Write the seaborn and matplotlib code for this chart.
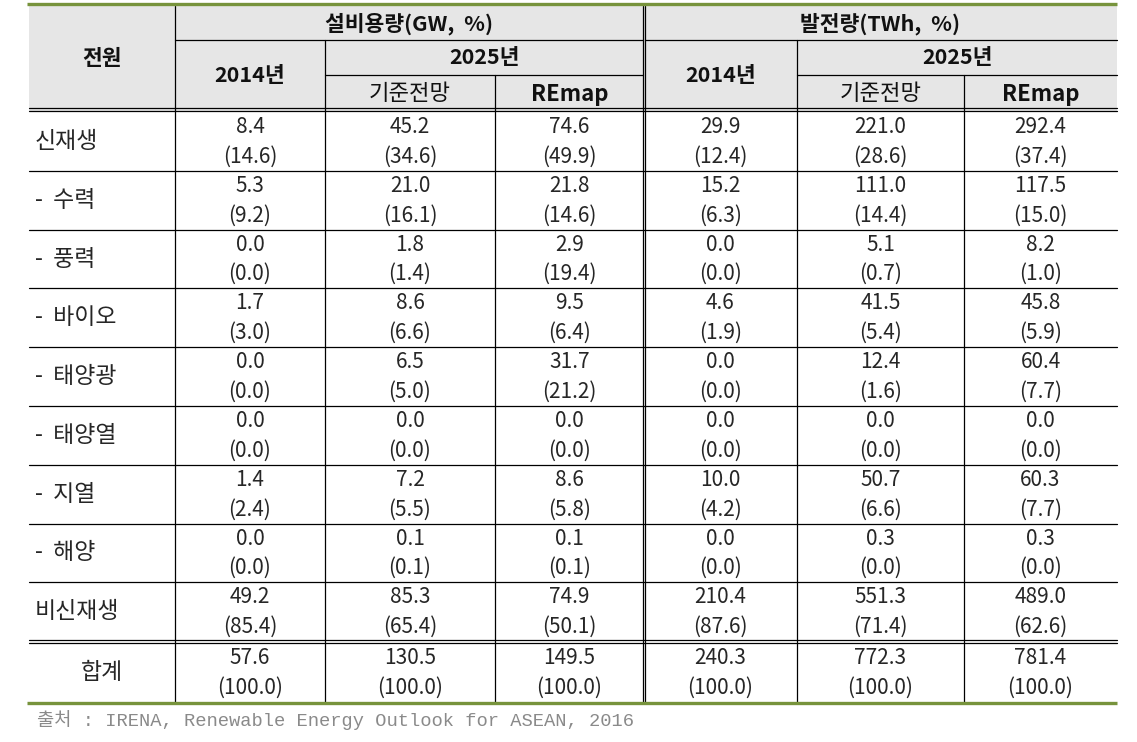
import matplotlib
matplotlib.use('Agg')
from matplotlib import pyplot as plt
from matplotlib.patches import Rectangle
import seaborn as sns

# 전원별 설비용량 / 발전량 (2014, 2025 기준전망, 2025 REmap)
labels = ['신재생', '-  수력', '-  풍력', '-  바이오', '-  태양광', '-  태양열',
          '-  지열', '-  해양', '비신재생', '합계']

cap_2014 = [8.4, 5.3, 0.0, 1.7, 0.0, 0.0, 1.4, 0.0, 49.2, 57.6]
cap_2014_pct = [14.6, 9.2, 0.0, 3.0, 0.0, 0.0, 2.4, 0.0, 85.4, 100.0]
cap_base = [45.2, 21.0, 1.8, 8.6, 6.5, 0.0, 7.2, 0.1, 85.3, 130.5]
cap_base_pct = [34.6, 16.1, 1.4, 6.6, 5.0, 0.0, 5.5, 0.1, 65.4, 100.0]
cap_remap = [74.6, 21.8, 2.9, 9.5, 31.7, 0.0, 8.6, 0.1, 74.9, 149.5]
cap_remap_pct = [49.9, 14.6, 19.4, 6.4, 21.2, 0.0, 5.8, 0.1, 50.1, 100.0]

gen_2014 = [29.9, 15.2, 0.0, 4.6, 0.0, 0.0, 10.0, 0.0, 210.4, 240.3]
gen_2014_pct = [12.4, 6.3, 0.0, 1.9, 0.0, 0.0, 4.2, 0.0, 87.6, 100.0]
gen_base = [221.0, 111.0, 5.1, 41.5, 12.4, 0.0, 50.7, 0.3, 551.3, 772.3]
gen_base_pct = [28.6, 14.4, 0.7, 5.4, 1.6, 0.0, 6.6, 0.0, 71.4, 100.0]
gen_remap = [292.4, 117.5, 8.2, 45.8, 60.4, 0.0, 60.3, 0.3, 489.0, 781.4]
gen_remap_pct = [37.4, 15.0, 1.0, 5.9, 7.7, 0.0, 7.7, 0.0, 62.6, 100.0]

group_titles = ['설비용량(GW,  %)', '발전량(TWh,  %)']
sub_titles = ['2014년', '2025년']
case_titles = ['기준전망', 'REmap']
source = '출처 : IRENA, Renewable Energy Outlook for ASEAN, 2016'

columns = [(cap_2014, cap_2014_pct), (cap_base, cap_base_pct),
           (cap_remap, cap_remap_pct), (gen_2014, gen_2014_pct),
           (gen_base, gen_base_pct), (gen_remap, gen_remap_pct)]

# layout (pixels)
xs = [29, 175, 325, 495, 644, 797, 964, 1117]
hy = [6, 40, 75, 111]
body_top = 112
row_h = 58.8
total_top = 643
bottom = 702
green = '#77933C'
gray_bg = '#E6E6E6'

sns.set_theme(style='white')
plt.rcParams['font.family'] = ['Noto Sans CJK KR', 'DejaVu Sans']

fig = plt.figure(figsize=(11.37, 7.42), dpi=100)
ax = fig.add_axes([0, 0, 1, 1])
ax.set_xlim(0, 1137)
ax.set_ylim(742, 0)
ax.axis('off')

lw = 0.9
k = 'black'

# header background
ax.add_patch(Rectangle((xs[0], hy[0]), xs[-1] - xs[0], hy[3] - hy[0],
                       facecolor=gray_bg, edgecolor='none', zorder=0))

# header lines
ax.plot([xs[1], xs[4] - 1.4], [hy[1], hy[1]], color=k, lw=lw)
ax.plot([xs[4] + 1.4, xs[-1]], [hy[1], hy[1]], color=k, lw=lw)
ax.plot([xs[2], xs[4] - 1.4], [hy[2], hy[2]], color=k, lw=lw)
ax.plot([xs[5], xs[-1]], [hy[2], hy[2]], color=k, lw=lw)

# double line below header and above total
for y in (hy[3] - 1.2, total_top - 1.2):
    ax.plot([xs[0], xs[-1]], [y - 1.4, y - 1.4], color=k, lw=lw)
    ax.plot([xs[0], xs[-1]], [y + 1.4, y + 1.4], color=k, lw=lw)

# body row lines
for i in range(1, 9):
    y = body_top + i * row_h
    ax.plot([xs[0], xs[-1]], [y, y], color=k, lw=lw)

# vertical lines
ax.plot([xs[1], xs[1]], [hy[0], bottom], color=k, lw=lw)
ax.plot([xs[2], xs[2]], [hy[1], bottom], color=k, lw=lw)
ax.plot([xs[3], xs[3]], [hy[2], bottom], color=k, lw=lw)
ax.plot([xs[4] - 1.4, xs[4] - 1.4], [hy[0], bottom], color=k, lw=lw)
ax.plot([xs[4] + 1.4, xs[4] + 1.4], [hy[0], bottom], color=k, lw=lw)
ax.plot([xs[5], xs[5]], [hy[1], bottom], color=k, lw=lw)
ax.plot([xs[6], xs[6]], [hy[2], bottom], color=k, lw=lw)

# green top / bottom rules
ax.plot([xs[0] - 2, xs[-1]], [4, 4], color=green, lw=2.4, solid_capstyle='butt')
ax.plot([xs[0] - 2, xs[-1]], [bottom + 0.5, bottom + 0.5], color=green, lw=2.4,
        solid_capstyle='butt')

# header text
hk = dict(ha='center', va='center', fontsize=15.5, fontweight='bold', color='#111111')
ax.text((xs[0] + xs[1]) / 2, (hy[0] + hy[3]) / 2, '전원', **hk)
for g in range(2):
    b = 3 * g
    ax.text((xs[1 + b] + xs[4 + b]) / 2, (hy[0] + hy[1]) / 2 + 1, group_titles[g], **hk)
    ax.text((xs[1 + b] + xs[2 + b]) / 2, (hy[1] + hy[3]) / 2, sub_titles[0], **hk)
    ax.text((xs[2 + b] + xs[4 + b]) / 2, (hy[1] + hy[2]) / 2, sub_titles[1], **hk)
    for c in range(2):
        ax.text((xs[2 + b + c] + xs[3 + b + c]) / 2, (hy[2] + hy[3]) / 2 + 1,
                case_titles[c], ha='center', va='center', fontsize=16,
                fontweight='bold' if c else 'medium', color='#111111')

# body text
for i, lab in enumerate(labels):
    top = body_top + i * row_h if i < 9 else total_top
    if i < 9:
        ax.text(35, top + row_h / 2, lab, ha='left', va='center', fontsize=16.5)
    else:
        ax.text((xs[0] + xs[1]) / 2, top + row_h / 2, lab, ha='center', va='center',
                fontsize=16.5)
    for j, (vals, pcts) in enumerate(columns):
        cx = (xs[1 + j] + xs[2 + j]) / 2
        ax.text(cx, top + 15, f'{vals[i]:.1f}', ha='center', va='center', fontsize=15)
        ax.text(cx, top + 44.5, f'({pcts[i]:.1f})', ha='center', va='center', fontsize=15)

ax.text(37, 720, source, ha='left', va='center', fontsize=13.5, color='#8A8A8A',
        family=['Liberation Mono', 'Noto Sans CJK KR'])

fig.savefig('out.png', dpi=100)
